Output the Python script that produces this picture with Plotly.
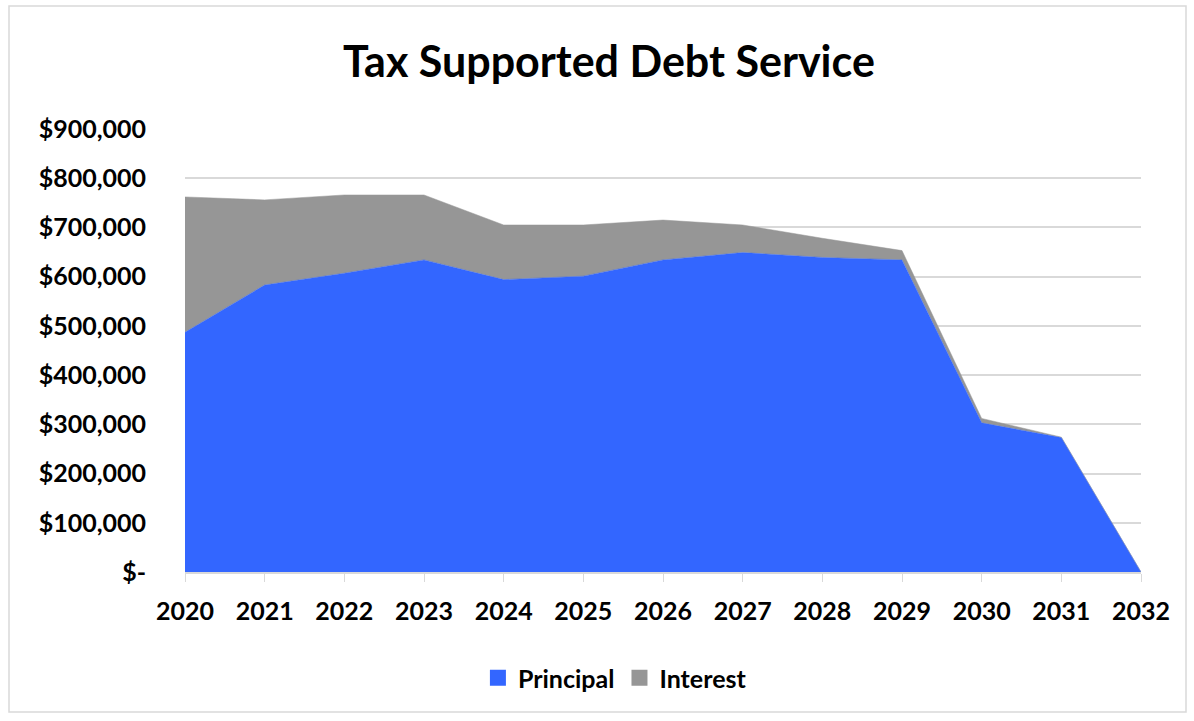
import plotly.graph_objects as go

years = ["2020", "2021", "2022", "2023", "2024", "2025", "2026", "2027", "2028", "2029", "2030", "2031", "2032"]
principal = [487000, 583000, 607000, 634000, 594000, 601000, 634000, 649000, 639000, 634000, 303000, 273000, 0]
interest = [275000, 173000, 159000, 132000, 111000, 104000, 81000, 56000, 39000, 19000, 9000, 1000, 0]

y_tickvals = [0, 100000, 200000, 300000, 400000, 500000, 600000, 700000, 800000, 900000]
y_ticktext = ["$-", "$100,000", "$200,000", "$300,000", "$400,000", "$500,000",
              "$600,000", "$700,000", "$800,000", "$900,000"]

series_names = ["Principal", "Interest"]
series_colors = ["#3366FF", "#969696"]

FONT = "Lato"
W, H = 1194, 721
L, R, T, B = 185, 53, 129, 149

fig = go.Figure()
for name, vals, col in zip(series_names, [principal, interest], series_colors):
    fig.add_trace(go.Scatter(x=years, y=vals, name=name, stackgroup="one",
                             mode="lines", line=dict(width=0.5, color=col),
                             fillcolor=col, showlegend=False))
# legend entries with square symbols
for name, col in zip(series_names, series_colors):
    fig.add_trace(go.Scatter(x=[None], y=[None], mode="markers", name="<b>" + name + "</b>",
                             marker=dict(symbol="square", size=18, color=col),
                             showlegend=True))

pw = W - L - R
ph = H - T - B
def px_x(p):
    return (p - L) / pw
def px_y(p):
    return (H - B - p) / ph

fig.update_layout(
    width=W, height=H,
    margin=dict(l=L, r=R, t=T, b=B),
    paper_bgcolor="white", plot_bgcolor="white",
    title=dict(text="<b>Tax Supported Debt Service</b>", x=0.51, xanchor="center",
               y=1 - 62 / H, yanchor="middle", xref="container", yref="container",
               font=dict(family=FONT, size=43, color="black")),
    font=dict(family=FONT, color="black"),
    xaxis=dict(type="category", range=[0, 12], showgrid=False, ticks="outside",
               ticklen=8, tickcolor="#d9d9d9", showline=True, linecolor="#d9d9d9",
               linewidth=2, tickfont=dict(size=25, family=FONT, color="black"),
               tickprefix="<b>", ticksuffix="</b>", zeroline=False,
               ticklabelstandoff=8),
    yaxis=dict(range=[0, 900000], tickvals=y_tickvals, ticktext=["<b>" + t + "</b>" for t in y_ticktext],
               showgrid=True, gridcolor="#d9d9d9", gridwidth=2, zeroline=False,
               tickfont=dict(size=25, family=FONT, color="black"), ticks="outside",
               ticklen=0, ticklabelstandoff=33),
    legend=dict(orientation="h", x=0.515, xanchor="center", xref="container",
                y=1 - 678 / H, yanchor="middle", yref="container",
                font=dict(size=25, family=FONT, color="black"), traceorder="normal",
                itemwidth=30),
    shapes=[dict(type="rect", xref="paper", yref="paper",
                 x0=px_x(9), x1=px_x(1186), y0=px_y(712), y1=px_y(6),
                 line=dict(color="#d9d9d9", width=1.5), fillcolor="rgba(0,0,0,0)", layer="below")],
    showlegend=True,
)

fig.write_html("out.html")
